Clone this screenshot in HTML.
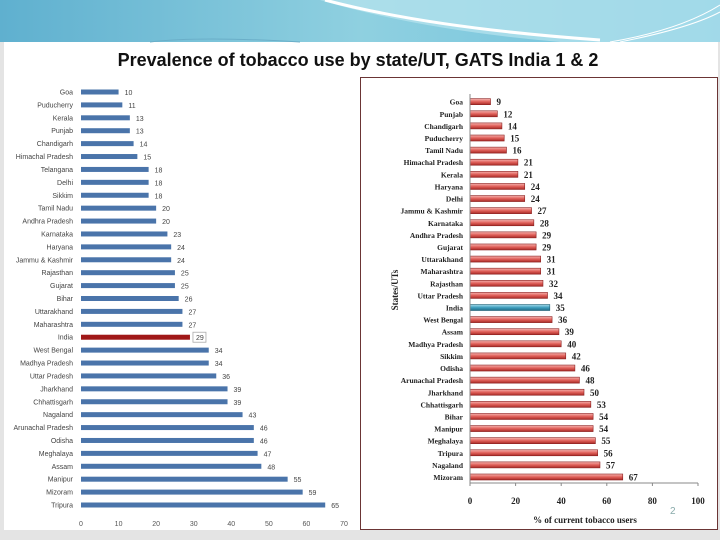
<!DOCTYPE html>
<html><head><meta charset="utf-8">
<style>
body{margin:0;width:720px;height:540px;overflow:hidden;background:#e4e4e4;font-family:"Liberation Sans",sans-serif;position:relative}
svg{position:absolute;left:0;top:0}
</style></head>
<body>
<svg width="720" height="540">
  <defs>
    <linearGradient id="ban" x1="0" y1="0" x2="1" y2="0">
      <stop offset="0" stop-color="#5fb0cf"/><stop offset="0.5" stop-color="#8fd0e0"/><stop offset="1" stop-color="#6cc0dc"/>
    </linearGradient>
    <linearGradient id="redg" x1="0" y1="0" x2="0" y2="1">
      <stop offset="0" stop-color="#f6b4b0"/><stop offset="0.5" stop-color="#e0605a"/><stop offset="1" stop-color="#a82a26"/>
    </linearGradient>
    <linearGradient id="blug" x1="0" y1="0" x2="0" y2="1">
      <stop offset="0" stop-color="#a8dceb"/><stop offset="0.5" stop-color="#3f9fbf"/><stop offset="1" stop-color="#216c86"/>
    </linearGradient>
  </defs>
  <rect x="0" y="0" width="720" height="42" fill="url(#ban)"/>
  <path d="M320 0 Q420 30 560 42 L720 42 L720 0 Z" fill="#b8e4ee" opacity="0.7"/>
  <path d="M325 0 Q430 28 600 40" stroke="#fff" stroke-width="3" fill="none"/>
  <path d="M610 42 Q680 30 720 5" stroke="#fff" stroke-width="1" fill="none"/>
  <path d="M620 42 Q690 28 720 12" stroke="#fff" stroke-width="1" fill="none"/>
  <rect x="4" y="42" width="714" height="488" fill="#fff"/>
  <path d="M150 42 Q200 36 300 42" stroke="#6aaec8" stroke-width="1" fill="none"/>
  <text x="358" y="66" text-anchor="middle" font-size="18" font-weight="bold" fill="#111">Prevalence of tobacco use by state/UT, GATS India 1 &amp; 2</text>
  <rect x="360.5" y="77.5" width="357" height="452" fill="#fff" stroke="#6b3535" stroke-width="1"/>
  <text x="670" y="514" font-size="10" fill="#8aa">2</text>
  <g id="left"></g>
  <g id="right"></g>
</svg>
<script>
const leftStates=["Goa","Puducherry","Kerala","Punjab","Chandigarh","Himachal Pradesh","Telangana","Delhi","Sikkim","Tamil Nadu","Andhra Pradesh","Karnataka","Haryana","Jammu & Kashmir","Rajasthan","Gujarat","Bihar","Uttarakhand","Maharashtra","India","West Bengal","Madhya Pradesh","Uttar Pradesh","Jharkhand","Chhattisgarh","Nagaland","Arunachal Pradesh","Odisha","Meghalaya","Assam","Manipur","Mizoram","Tripura"];
const leftValues=[10,11,13,13,14,15,18,18,18,20,20,23,24,24,25,25,26,27,27,29,34,34,36,39,39,43,46,46,47,48,55,59,65];
const leftTicks=[0,10,20,30,40,50,60,70];
const rightStates=["Goa","Punjab","Chandigarh","Puducherry","Tamil Nadu","Himachal Pradesh","Kerala","Haryana","Delhi","Jammu & Kashmir","Karnataka","Andhra Pradesh","Gujarat","Uttarakhand","Maharashtra","Rajasthan","Uttar Pradesh","India","West Bengal","Assam","Madhya Pradesh","Sikkim","Odisha","Arunachal Pradesh","Jharkhand","Chhattisgarh","Bihar","Manipur","Meghalaya","Tripura","Nagaland","Mizoram"];
const rightValues=[9,12,14,15,16,21,21,24,24,27,28,29,29,31,31,32,34,35,36,39,40,42,46,48,50,53,54,54,55,56,57,67];
const rightTicks=[0,20,40,60,80,100];
const NS="http://www.w3.org/2000/svg";
function mk(p,t,a,txt){const e=document.createElementNS(NS,t);for(const k in a)e.setAttribute(k,a[k]);if(txt!==undefined)e.textContent=txt;p.appendChild(e);return e;}
// left chart
const L=document.getElementById('left');
const lx=v=>81+v*(263/70);
const ly=i=>92+i*((505-92)/(leftStates.length-1));
leftStates.forEach((s,i)=>{
  const y=ly(i),isI=s==="India";
  let t=mk(L,'text',{x:73,y:y+2.5,'text-anchor':'end','font-size':7,fill:'#444'},s);
  
  
  let r=mk(L,'rect',{x:lx(0),y:y-2.5,width:lx(leftValues[i])-lx(0),height:5,fill:isI?'#a01818':'#4a74aa'});
  
  
  if(isI){let b=mk(L,'rect',{x:lx(leftValues[i])+3,y:y-5,width:13,height:10,fill:'none',stroke:'#aaa','stroke-width':0.8});
    
    }
  let v=mk(L,'text',{x:lx(leftValues[i])+6,y:y+3,'font-size':7,fill:'#444'},leftValues[i]);
  
  
});
leftTicks.forEach(t=>{
  let e=mk(L,'text',{x:lx(t),y:526,'text-anchor':'middle','font-size':7,fill:'#555'},t);
  
  
});
// right chart
const R=document.getElementById('right');
const rx=v=>470+v*(228/100);
const ry=i=>101.7+i*((477-101.7)/(rightStates.length-1));
rightStates.forEach((s,i)=>{
  const y=ry(i),isI=s==="India";
  let t=mk(R,'text',{x:463,y:y+3,'text-anchor':'end','font-size':7.5,'font-weight':'bold','font-family':'Liberation Serif, serif',fill:'#222'},s);
  
  
  let r=mk(R,'rect',{x:rx(0),y:y-3,width:rx(rightValues[i])-rx(0),height:6,fill:isI?'url(#blug)':'url(#redg)',stroke:isI?'#1f5f74':'#8a2020','stroke-width':0.6});
  
  
  let v=mk(R,'text',{x:rx(rightValues[i])+6,y:y+3.5,'font-size':9,'font-weight':'bold','font-family':'Liberation Serif, serif',fill:'#222'},rightValues[i]);
  
  
});
let ax=mk(R,'path',{d:'M470 94 V483 H698',stroke:'#888','stroke-width':1,fill:'none'});


rightTicks.forEach(t=>{
  mk(R,'line',{x1:rx(t),y1:483,x2:rx(t),y2:486,stroke:'#888'});
  let e=mk(R,'text',{x:rx(t),y:504,'text-anchor':'middle','font-size':9,'font-weight':'bold','font-family':'Liberation Serif, serif',fill:'#222'},t);
  
  
});
let xt=mk(R,'text',{x:585,y:523,'text-anchor':'middle','font-size':9,'font-weight':'bold','font-family':'Liberation Serif, serif',fill:'#222'},'% of current tobacco users');


let yt=mk(R,'text',{x:0,y:0,transform:'translate(398,290) rotate(-90)','text-anchor':'middle','font-size':9,'font-weight':'bold','font-family':'Liberation Serif, serif',fill:'#222'},'States/UTs');


</script>
</body></html>
